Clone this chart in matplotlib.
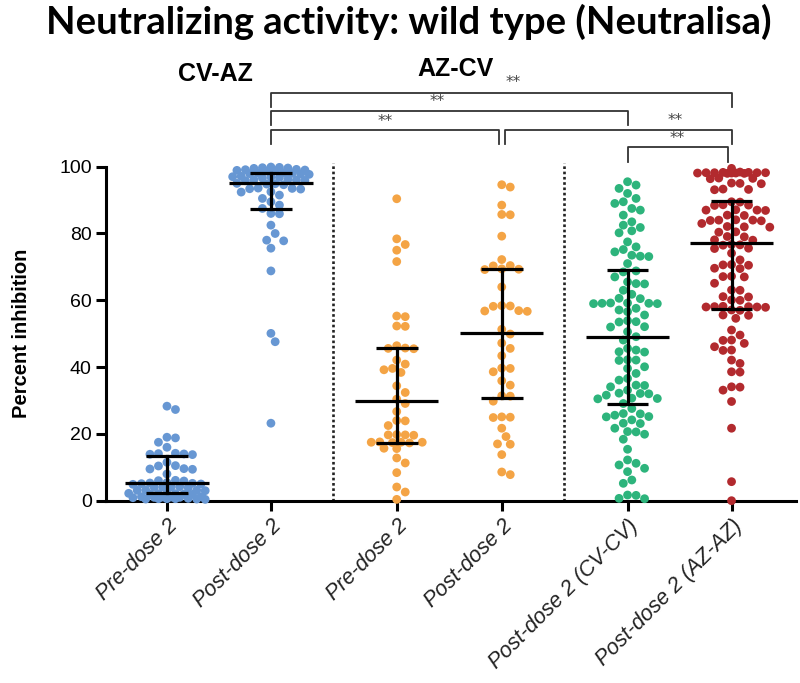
import numpy as np
import matplotlib
matplotlib.use("Agg")
import matplotlib.pyplot as plt

# ---------------- data ----------------
categories = ["Pre-dose 2", "Post-dose 2", "Pre-dose 2", "Post-dose 2",
              "Post-dose 2 (CV-CV)", "Post-dose 2 (AZ-AZ)"]
cohort_labels = ["CV-AZ", "AZ-CV"]

cv_az_pre = [28.3, 27.3, 19.0, 18.8, 17.5, 16.0, 14.2, 14.0, 13.9, 14.1, 13.8,
             11.5, 10.5, 10.4, 9.6, 9.4, 9.5, 8.0, 6.1, 6.0, 5.9,
             5.3, 5.0, 5.2, 4.9, 5.1, 5.4, 4.1, 4.0, 4.2, 4.1, 3.9,
             3.1, 3.0, 3.2, 3.1, 2.1, 2.0, 2.2, 2.1, 1.9, 2.0, 2.2,
             1.1, 1.0, 1.2, 1.1, 0.9, 1.0, 1.2, 0.6, 0.5, 0.7, 0.6, 0.4, 0.5, 0.6]
cv_az_post = [99.8, 99.6, 99.9, 99.7, 99.5, 99.0, 98.9, 99.1, 98.8, 99.2, 98.7,
              98.0, 97.9, 98.1, 97.8, 98.2, 97.7, 97.0, 96.9, 97.1, 96.8, 96.6,
              96.0, 95.8, 96.2, 95.9, 96.1, 94.8, 94.6, 95.0, 94.9,
              93.5, 93.4, 93.6, 93.3, 92.5, 92.4, 91.5, 90.5, 89.5, 88.5, 87.5,
              86.0, 85.9, 82.5, 80.0, 78.0, 77.8, 75.6, 68.8, 50.1, 47.6, 23.2]
az_cv_pre = [90.4, 78.4, 76.7, 75.0, 71.6, 55.3, 55.1, 52.3, 52.2, 45.6, 45.5,
             45.7, 46.4, 42.1, 40.9, 39.6, 39.2, 38.4, 34.4, 32.4, 30.4, 29.1,
             26.7, 24.0, 23.9, 22.5, 19.7, 19.6, 19.8, 19.7, 17.5, 17.4, 17.6,
             17.5, 17.3, 17.5, 15.7, 15.6, 12.8, 11.3, 8.4, 4.1, 2.6, 0.4]
az_cv_post = [94.6, 93.9, 88.5, 85.7, 85.6, 79.2, 72.2, 70.4, 70.3, 69.3, 69.2,
              69.4, 64.0, 58.3, 58.2, 58.4, 56.8, 56.7, 56.9, 51.3, 49.9, 47.2,
              45.6, 43.4, 39.7, 39.6, 38.6, 35.9, 34.6, 31.4, 31.3, 29.8, 25.0,
              24.9, 25.1, 21.7, 19.2, 17.0, 16.9, 13.8, 8.6, 7.8]
cv_cv_post = [95.5, 94.5, 93.5, 92.0, 90.5, 89.5, 89.0, 87.5, 87.0, 85.5, 83.5,
              82.5, 81.8, 80.8, 80.2, 77.5, 76.0, 75.2, 74.5, 73.5, 73.2, 73.1,
              71.0, 68.8, 68.5, 67.0, 65.5, 65.0, 64.9, 63.0, 61.8, 60.6, 60.5,
              59.1, 59.0, 59.2, 59.1, 59.0, 59.2, 57.6, 57.1, 56.6, 55.6, 53.9,
              53.6, 53.5, 52.1, 52.0, 50.6, 49.1, 48.1, 45.6, 45.1, 44.6, 44.5,
              42.1, 42.0, 42.2, 40.1, 39.6, 38.1, 36.6, 36.1, 34.6, 34.5, 34.1,
              33.1, 32.1, 32.0, 32.2, 31.6, 30.6, 30.5, 30.7, 29.1, 27.6, 26.1,
              26.0, 25.6, 25.2, 25.1, 24.2, 23.2, 23.1, 21.7, 20.7, 20.6, 19.9,
              18.4, 15.4, 12.2, 11.2, 10.7, 9.7, 8.7, 6.2, 5.2, 1.7, 1.6, 0.7, 0.6]
az_az_post = [99.5, 98.2, 98.1, 98.3, 98.2, 98.0, 98.4, 98.1, 98.2, 98.3, 98.0,
              98.2, 98.1, 96.5, 96.4, 96.6, 95.0, 94.9, 95.1, 93.2, 93.1, 93.3,
              89.5, 89.4, 88.5, 88.4, 88.6, 87.0, 86.9, 87.1, 87.0, 85.5, 85.4,
              84.0, 83.9, 84.1, 84.0, 83.8, 83.0, 82.0, 81.9, 82.1, 80.5, 80.4,
              79.1, 79.0, 78.1, 78.0, 76.6, 76.5, 76.7, 75.6, 75.5, 74.1, 72.1,
              70.6, 70.5, 70.7, 69.6, 69.5, 67.1, 67.0, 67.2, 65.1, 63.1, 63.0,
              61.1, 61.0, 60.1, 60.0, 58.1, 58.0, 58.2, 58.1, 57.9, 58.0, 57.1,
              57.0, 55.6, 55.5, 54.6, 51.1, 49.6, 48.1, 48.0, 47.1, 46.1, 45.1,
              45.0, 42.1, 41.1, 38.6, 38.5, 34.1, 34.0, 33.1, 29.7, 21.7, 5.7, 0.0]
groups = [cv_az_pre, cv_az_post, az_cv_pre, az_cv_post, cv_cv_post, az_az_post]

medians = [5.3, 95.1, 29.8, 50.1, 48.9, 77.3]
q1 = [2.3, 87.2, 17.2, 30.7, 29.0, 57.3]
q3 = [13.5, 98.1, 45.6, 69.5, 69.0, 89.6]

comparisons = [(1, 5), (1, 4), (1, 3), (3, 5), (4, 5)]
comparison_labels = ["**", "**", "**", "**", "**"]

# ---------------- style ----------------
colors = ["#6797D3", "#6797D3", "#F4A445", "#F4A445", "#2DB47C", "#B22A2E"]
positions = [0, 1, 2.21, 3.22, 4.43, 5.43]
max_half_px = [42, 40, 32, 30, 34, 40]
dividers = [1.6, 3.82]

W, H = 800, 683
fig = plt.figure(figsize=(W / 100, H / 100), dpi=100)
ax = fig.add_axes([105.6 / W, 1 - 500.7 / H, (796 - 105.6) / W, (500.7 - 166.7) / H])
ax.set_xlim(-0.59, 6.05)
ax.set_ylim(0, 100)


def swarm_offsets(values, center, sep_px, max_half):
    trans = ax.transData
    vals = np.asarray(values, dtype=float)
    order = np.argsort(-vals, kind="stable")
    ypx = trans.transform(np.column_stack([np.full(len(vals), center), vals]))[:, 1]
    xc = trans.transform((center, 0))[0]
    unit = trans.transform((center + 1, 0))[0] - xc
    placed = []
    offs = np.zeros(len(vals))
    step = sep_px / 2.0
    cands = [0.0]
    k = 1
    while k * step <= max_half:
        cands += [k * step, -k * step]
        k += 1
    for i in order:
        best_c, best_d = 0.0, -1.0
        for c in cands:
            if placed:
                arr = np.array(placed)
                dmin = np.min(np.hypot(arr[:, 0] - c, arr[:, 1] - ypx[i]))
            else:
                dmin = 1e9
            if dmin >= sep_px:
                best_c, best_d = c, dmin
                break
            if dmin > best_d + 0.5:
                best_c, best_d = c, dmin
        placed.append((best_c, ypx[i]))
        offs[i] = best_c / unit
    return offs


for g, vals in enumerate(groups):
    offs = swarm_offsets(vals, positions[g], 8.5, max_half_px[g])
    ax.scatter(np.array(positions[g]) + offs, vals, s=40, color=colors[g],
               edgecolors="none", zorder=3, clip_on=False)
    p = positions[g]
    ax.plot([p - 0.40, p + 0.40], [medians[g]] * 2, color="black", lw=2.3, zorder=5,
            solid_capstyle="butt")
    ax.plot([p, p], [q1[g], q3[g]], color="black", lw=2.3, zorder=5)
    for q in (q1[g], q3[g]):
        ax.plot([p - 0.2, p + 0.2], [q, q], color="black", lw=2.3, zorder=5,
                solid_capstyle="butt")

for d in dividers:
    ax.plot([d, d], [0, 101], color="#222222", lw=1.9, ls=(0, (1, 1)), zorder=1,
            clip_on=False)

# axes styling
for s in ["top", "right"]:
    ax.spines[s].set_visible(False)
ax.spines["left"].set_linewidth(2.2)
ax.spines["bottom"].set_linewidth(2.2)
ax.set_yticks([0, 20, 40, 60, 80, 100])
ax.tick_params(axis="both", width=2.2, length=7, color="black")
ax.tick_params(axis="y", labelsize=14, pad=3)
ax.set_xticks(positions)
ax.set_xticklabels(categories, rotation=45, ha="right", rotation_mode="anchor",
                   fontsize=15.5, fontstyle="italic", color="#222222",
                   family="Liberation Sans")
for lab in ax.get_yticklabels():
    lab.set_family("Liberation Sans")
ax.set_ylabel("Percent inhibition", fontsize=14.5, fontweight="bold",
              family="Liberation Sans", labelpad=20)

# comparison brackets (data coordinates above the axis)
bracket_y = [122.0, 116.7, 111.0, 111.0, 106.0]
bracket_drop = [4.0, 4.1, 4.2, 4.2, 4.5]
star_y = [125.1, 119.5, 113.6, 113.8, 108.5]
star_x = [3.33, 2.60, 2.10, 4.89, 4.91]
shrink = [(0, 0), (0, 0), (0, -0.03), (0.03, 0), (0, -0.03)]
for k, ((a, b), lab) in enumerate(zip(comparisons, comparison_labels)):
    xa = positions[a] + shrink[k][0]
    xb = positions[b] + shrink[k][1]
    y = bracket_y[k]
    ax.plot([xa, xa, xb, xb], [y - bracket_drop[k], y, y, y - bracket_drop[k]],
            color="#333333", lw=1.3, clip_on=False, zorder=2)
    ax.text(star_x[k], star_y[k], lab, ha="center", va="center", fontsize=11,
            color="#444444", clip_on=False)

# cohort labels
fig.text(215 / W, 1 - 74 / H, cohort_labels[0], ha="center", va="center",
         fontsize=18, fontweight="bold", family="Liberation Sans")
fig.text(456 / W, 1 - 69 / H, cohort_labels[1], ha="center", va="center",
         fontsize=18, fontweight="bold", family="Liberation Sans")

fig.text(409 / W, 1 - 22 / H, "Neutralizing activity: wild type (Neutralisa)",
         ha="center", va="center", fontsize=27.5, fontweight="bold", family="Lato")

fig.savefig("out.png", dpi=100)
